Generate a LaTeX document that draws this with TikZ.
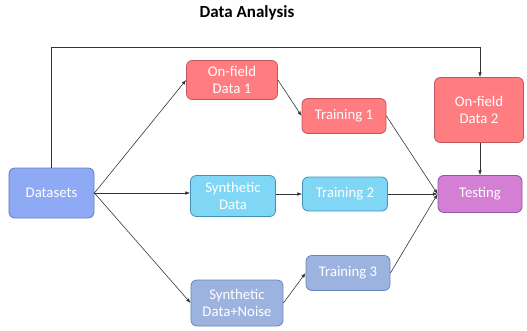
\documentclass[tikz,border=0pt]{standalone}
\usepackage{fontspec}
\setmainfont{Carlito}
\usepackage{tikz}
\usetikzlibrary{arrows.meta,positioning}

\definecolor{redfill}{HTML}{FF7C80}
\definecolor{redline}{HTML}{C0565B}
\definecolor{bluefill}{HTML}{8FAAF5}
\definecolor{blueline}{HTML}{5F7FC8}
\definecolor{cyanfill}{HTML}{7FD7F5}
\definecolor{cyanline}{HTML}{3F93BB}
\definecolor{greyfill}{HTML}{9DB3DF}
\definecolor{greyline}{HTML}{6A86BD}
\definecolor{purplefill}{HTML}{D47FD3}
\definecolor{purpleline}{HTML}{8E58A8}

\tikzset{
  box/.style={rounded corners=5pt, line width=0.7pt, text=white, align=center,
    font=\fontsize{12.6}{15}\selectfont, inner sep=1pt},
  arrow/.style={-{Latex[length=4pt,width=3pt]}, line width=0.5pt, black!80},
}

\begin{document}
\begin{tikzpicture}[x=0.03cm,y=-0.03cm]
      \useasboundingbox (0,0) rectangle (527,330);
      \node[font=\bfseries\fontsize{14.5}{16}\selectfont] (title) at (247,13) {Data Analysis};
      \node[box, fill=bluefill, draw=blueline, minimum width=2.55cm, minimum height=1.5cm] (datasets) at (51.5,193) {Datasets};
      \node[box, fill=redfill, draw=redline, minimum width=2.73cm, minimum height=1.17cm] (onfield1) at (232,80) {On-field\\Data 1};
      \node[box, fill=redfill, draw=redline, minimum width=2.52cm, minimum height=1.05cm] (training1) at (344,116) {Training 1};
      \node[box, fill=redfill, draw=redline, minimum width=2.67cm, minimum height=1.95cm] (onfield2) at (479,110) {On-field\\Data 2};
      \node[box, fill=cyanfill, draw=cyanline, minimum width=2.55cm, minimum height=1.23cm] (synth) at (233,196) {Synthetic\\Data};
      \node[box, fill=cyanfill, draw=cyanline, minimum width=2.55cm, minimum height=1.02cm] (training2) at (345,194) {Training 2};
      \node[box, fill=purplefill, draw=purpleline, minimum width=2.52cm, minimum height=1.11cm] (testing) at (480,194) {Testing};
      \node[box, fill=greyfill, draw=greyline, minimum width=2.76cm, minimum height=1.38cm] (noise) at (237,303) {Synthetic\\Data+Noise};
      \node[box, fill=greyfill, draw=greyline, minimum width=2.52cm, minimum height=1.05cm] (training3) at (348,273) {Training 3};
      % connectors
      \coordinate (top) at (51,47);
      \draw[arrow] (datasets.north) -- (datasets.north |- top) -| (testing.north |- onfield2.north);
      \draw[arrow] (datasets.east) -- (onfield1.west);
      \draw[arrow] (datasets.east) -- (datasets.east -| synth.west);
      \draw[arrow] (datasets.east) -- (noise.west);
      \draw[arrow] (onfield1.east) -- (training1.west);
      \draw[arrow] (synth.east |- training2.west) -- (training2.west);
      \draw[arrow] (noise.east) -- (training3.west);
      \draw[arrow] (training1.east) -- (testing.west);
      \draw[arrow] (training2.east) -- (testing.west);
      \draw[arrow] (training3.east) -- (testing.west);
      \draw[arrow] (onfield2.south -| testing.north) -- (testing.north);
\end{tikzpicture}
\end{document}
